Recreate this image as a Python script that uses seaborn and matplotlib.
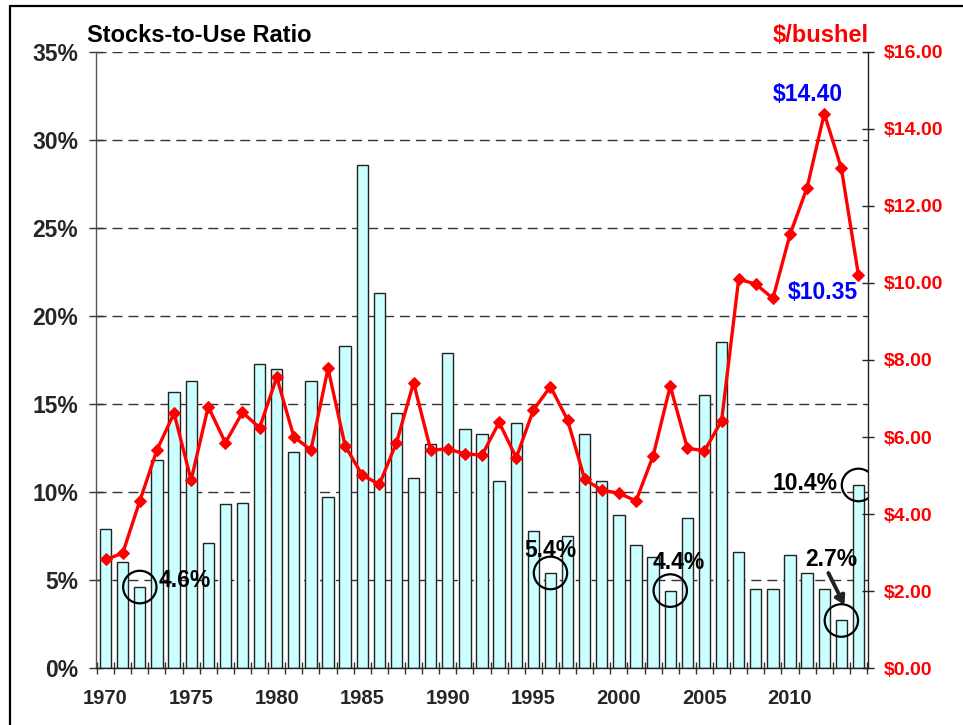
import matplotlib
matplotlib.use("Agg")
import matplotlib.pyplot as plt
import seaborn as sns
from matplotlib.patches import Ellipse
from matplotlib.lines import Line2D
from matplotlib.ticker import FuncFormatter

# data
years = list(range(1970, 2015))
stocks_pct = [7.9, 6.0, 4.6, 11.8, 15.7, 16.3, 7.1, 9.3, 9.4, 17.3,
              17.0, 12.3, 16.3, 9.7, 18.3, 28.6, 21.3, 14.5, 10.8, 12.7,
              17.9, 13.6, 13.3, 10.6, 13.9, 7.8, 5.4, 7.5, 13.3, 10.6,
              8.7, 7.0, 6.3, 4.4, 8.5, 15.5, 18.5, 6.6, 4.5, 4.5,
              6.4, 5.4, 4.5, 2.7, 10.4]
price = [2.82, 2.98, 4.34, 5.66, 6.62, 4.88, 6.79, 5.85, 6.64, 6.24,
         7.55, 6.01, 5.66, 7.78, 5.77, 5.01, 4.77, 5.85, 7.41, 5.66,
         5.69, 5.56, 5.53, 6.38, 5.46, 6.70, 7.31, 6.44, 4.90, 4.62,
         4.54, 4.34, 5.51, 7.32, 5.71, 5.64, 6.42, 10.10, 9.97, 9.60,
         11.26, 12.48, 14.40, 12.98, 10.20]

# circled low-stock years and their labels
callout_years = [1972, 1996, 2003, 2014, 2013]
callout_labels = ["4.6%", "5.4%", "4.4%", "10.4%", "2.7%"]
callout_offsets = [(45, 0), (0, 16), (9, 22), (-53, -5), (-10, 54)]

# price labels
price_label_years = [2012, 2014]
price_labels = ["$14.40", "$10.35"]
price_offsets = [(-16, 13), (-36, -24)]

sns.set_style("white")
plt.rcParams["font.family"] = ["Liberation Sans", "DejaVu Sans"]
plt.rcParams["font.weight"] = "bold"

fig, ax = plt.subplots(figsize=(9.63, 7.25), dpi=100)
fig.subplots_adjust(left=0.0997, right=0.9014, bottom=0.0786, top=0.9283)

sns.barplot(x=years, y=stocks_pct, native_scale=True, width=0.66,
            color="#CCFFFF", saturation=1, edgecolor="#222222",
            linewidth=1, ax=ax, zorder=2)
ax.set_axisbelow(True)
ax.set_xlim(1969.44, 2014.56)
ax.set_ylim(0, 35)
ax.set_yticks(range(0, 36, 5))
ax.yaxis.set_major_formatter(FuncFormatter(lambda v, p: f"{v:.0f}%"))
ax.yaxis.grid(True, linestyle=(0, (7.2, 4.3)), color="#333333", linewidth=1)
ax.xaxis.grid(False)
ax.set_xticks(range(1970, 2011, 5))
ax.set_xticks([y + 0.5 for y in range(1969, 2015)], minor=True)
ax.tick_params(axis="x", which="major", length=0, pad=15, labelsize=14.5)
ax.tick_params(axis="x", which="minor", length=9, direction="inout",
               width=1, color="#333333", bottom=True)
ax.tick_params(axis="y", length=10, direction="inout", width=1,
               color="#333333", left=True, pad=8, labelsize=16.5)
ax.set_xlabel("")
ax.set_ylabel("")
for s in ["top", "right"]:
    ax.spines[s].set_visible(False)
ax.spines["left"].set_color("#555555")
ax.spines["bottom"].set_color("#222222")
ax.spines["left"].set_linewidth(1)
ax.spines["bottom"].set_linewidth(1)

ax2 = ax.twinx()
sns.lineplot(x=years, y=price, ax=ax2, color="red", linewidth=2.4,
             marker="D", markersize=6.2, markeredgecolor="red",
             markerfacecolor="red")
ax2.set_ylim(0, 16)
ax2.set_yticks(range(0, 17, 2))
ax2.yaxis.set_major_formatter(FuncFormatter(lambda v, p: f"${v:.2f}"))
ax2.tick_params(axis="y", length=8, direction="inout", width=1,
                color="#222222", right=True, pad=7, labelsize=14,
                labelcolor="red")
ax2.set_ylabel("")
for s in ["top", "left", "bottom"]:
    ax2.spines[s].set_visible(False)
ax2.spines["right"].set_color("#222222")
ax2.spines["right"].set_linewidth(1)

# circles and labels for the low stock years
lookup = dict(zip(years, stocks_pct))
for yr, lab, (dx, dy) in zip(callout_years, callout_labels, callout_offsets):
    val = lookup[yr]
    ax2.add_patch(Ellipse((yr, val), width=1.95, height=1.85, fill=False,
                          edgecolor="black", linewidth=1.6,
                          transform=ax.transData, zorder=5))
    ax.annotate(lab, xy=(yr, val), xytext=(dx, dy), textcoords="offset pixels",
                ha="center", va="baseline", fontsize=16.5, fontweight="bold",
                color="black", zorder=6)

# arrow pointing at the 2013 bar
ax.annotate("", xy=(2013 + 3 / 17.1, lookup[2013] + 15.5 / 17.6),
            xytext=(-16, 32), textcoords="offset pixels",
            arrowprops=dict(arrowstyle="-|>,head_length=0.5,head_width=0.3",
                            lw=2.8, color="#222222", shrinkA=0, shrinkB=0))

plookup = dict(zip(years, price))
for yr, lab, (dx, dy) in zip(price_label_years, price_labels, price_offsets):
    ax2.annotate(lab, xy=(yr, plookup[yr]), xytext=(dx, dy),
                 textcoords="offset pixels", ha="center", va="baseline",
                 fontsize=16.5, fontweight="bold", color="blue")

# axis titles
fig.text(87 / 963, 1 - 41.7 / 725, "Stocks-to-Use Ratio", ha="left",
         va="baseline", fontsize=17, fontweight="bold", color="black")
fig.text(869 / 963, 1 - 41.7 / 725, "$/bushel", ha="right",
         va="baseline", fontsize=17, fontweight="bold", color="red")

# frame lines at top and left
fig.add_artist(Line2D([9.7 / 963, 9.7 / 963], [0, 1 - 5.5 / 725],
                      color="black", linewidth=1.6))
fig.add_artist(Line2D([9.7 / 963, 1], [1 - 5.5 / 725, 1 - 5.5 / 725],
                      color="black", linewidth=1.6))

fig.savefig("out.png", dpi=100)
